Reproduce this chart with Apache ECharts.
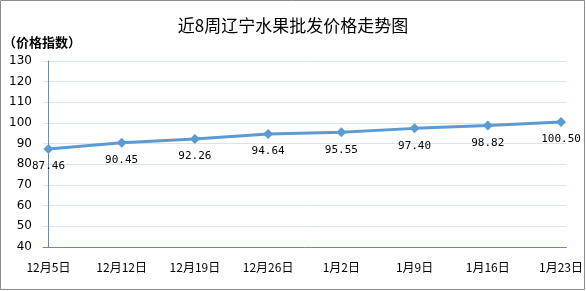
<!DOCTYPE html>
<html><head><meta charset="utf-8">
<script src="https://cdn.jsdelivr.net/npm/echarts@6/dist/echarts.min.js"></script>
<style>html,body{margin:0;padding:0;background:#fff}#c{width:586px;height:291px}</style>
</head><body><div id="c"></div>
<script>
var categories = ['12月5日','12月12日','12月19日','12月26日','1月2日','1月9日','1月16日','1月23日'];
var values = [87.46, 90.45, 92.26, 94.64, 95.55, 97.40, 98.82, 100.50];
var yTicks = [40, 50, 60, 70, 80, 90, 100, 110, 120, 130];

var chart = echarts.init(document.getElementById('c'));
var pad = 0.0744;
chart.setOption({
  animation: false,
  backgroundColor: '#fff',
  title: {
    text: '近8周辽宁水果批发价格走势图',
    left: 'center', top: 12,
    textStyle: {fontFamily: 'Noto Sans CJK SC', fontSize: 17, fontWeight: 'normal', color: '#000'}
  },
  graphic: [
    {type: 'rect', shape: {x: 0.5, y: 0.5, width: 584, height: 289}, style: {fill: null, stroke: '#8c8c8c', lineWidth: 1}, silent: true},
    {type: 'text', left: 3, top: 36, style: {text: '（价格指数）', font: 'bold 13px "Noto Sans CJK SC"', fill: '#000'}}
  ],
  grid: {left: 43, right: 15, top: 61, bottom: 44},
  xAxis: {
    type: 'value', min: -pad, max: 7 + pad,
    axisLine: {show: true, onZero: false, lineStyle: {color: '#5b8ec6', width: 1}},
    axisTick: {show: false},
    splitLine: {show: false},
    axisLabel: {
      customValues: categories.map(function (c, i) { return i; }),
      formatter: function (v) { return categories[Math.round(v)]; },
      fontFamily: 'Noto Sans CJK SC', fontSize: 12, color: '#000', margin: 14
    }
  },
  yAxis: {
    type: 'value', min: 40, max: 130, interval: 10,
    axisLine: {show: true, lineStyle: {color: '#5b8ec6', width: 1}},
    axisTick: {show: false},
    splitLine: {lineStyle: {color: '#d6e5f3', width: 1}},
    axisLabel: {
      formatter: function (v) { return yTicks.indexOf(v) >= 0 ? String(v) : ''; },
      fontFamily: 'DejaVu Sans', fontSize: 12, color: '#000', margin: 11
    }
  },
  series: [{
    type: 'line',
    data: values.map(function (v, i) { return [i, v]; }),
    symbol: 'diamond', symbolSize: 10,
    lineStyle: {color: '#5b9bd5', width: 3},
    itemStyle: {color: '#5b9bd5'},
    label: {
      show: true, position: 'bottom', distance: 7,
      formatter: function (p) { return p.value[1].toFixed(2); },
      fontFamily: 'DejaVu Sans Mono', fontSize: 11, color: '#000'
    }
  }]
});
</script></body></html>
